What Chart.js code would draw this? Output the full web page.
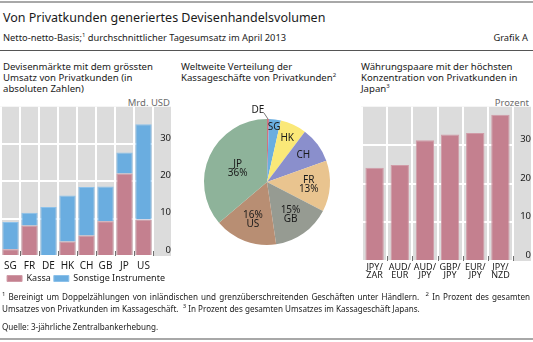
<!DOCTYPE html>
<html lang="de">
<head>
<meta charset="utf-8">
<script src="https://cdn.jsdelivr.net/npm/chart.js@4.4.0/dist/chart.umd.min.js"></script>
<style>
  body { margin: 0; width: 533px; height: 342px; position: relative; overflow: hidden;
         background: #fff; color: #1a1a1a; font-family: "Noto Sans", sans-serif; }
  .abs { position: absolute; white-space: nowrap; }
  .rule { position: absolute; left: 0; width: 533px; }
  .panel-title { position: absolute; font-size: 9.6px; line-height: 11px; white-space: nowrap; }
  sup { font-size: 6px; vertical-align: 4px; line-height: 0; }
  .unit { position: absolute; font-size: 9.5px; color: #6b6b6b; }
  .notes { position: absolute; left: 2px; width: 528px; font-size: 8.1px; line-height: 12px; text-align: justify; }
  canvas { position: absolute; }
</style>
</head>
<body>
<div class="rule" style="top:1px;height:2px;background:#a8a8a8"></div>
<div class="abs" style="left:3px;top:9px;font-size:12.5px">Von Privatkunden generiertes Devisenhandelsvolumen</div>
<div class="abs" style="left:3px;top:31px;font-size:9.3px">Netto-netto-Basis;<sup>1</sup> durchschnittlicher Tagesumsatz im April 2013</div>
<div class="abs" style="right:5px;top:31px;font-size:9.3px">Grafik A</div>
<div class="rule" style="top:50px;height:1px;background:#555"></div>

<div class="panel-title" style="left:3px;top:61px">Devisenmärkte mit dem grössten<br>Umsatz von Privatkunden (in<br>absoluten Zahlen)</div>
<div class="panel-title" style="left:181px;top:61px">Weltweite Verteilung der<br>Kassageschäfte von Privatkunden<sup>2</sup></div>
<div class="panel-title" style="left:361px;top:61px">Währungspaare mit der höchsten<br>Konzentration von Privatkunden in<br>Japan<sup>3</sup></div>
<div class="unit" style="right:363px;top:96px">Mrd. USD</div>
<div class="unit" style="right:4px;top:96px">Prozent</div>

<canvas id="marketChart" width="171" height="192" style="left:0;top:101px"></canvas>
<canvas id="spotChart" width="160" height="160" style="left:187px;top:102px"></canvas>
<canvas id="pairChart" width="170" height="182" style="left:361px;top:101px"></canvas>

<div class="notes" style="top:291px"><sup>1</sup> Bereinigt um Doppelzählungen von inländischen und grenzüberschreitenden Geschäften unter Händlern.&nbsp; <sup>2</sup> In Prozent des gesamten Umsatzes von Privatkunden im Kassageschäft.&nbsp; <sup>3</sup> In Prozent des gesamten Umsatzes im Kassageschäft Japans.</div>
<div class="notes" style="top:321px">Quelle: 3-jährliche Zentralbankerhebung.</div>
<div class="rule" style="top:338px;height:2px;background:#a8a8a8"></div>

<script>
// FX turnover with retail customers, April 2013 (USD bn, daily average)
const marketCodes = ['SG', 'FR', 'DE', 'HK', 'CH', 'GB', 'JP', 'US'];
const kassaVolume = [1.8, 8.2, 0.3, 3.9, 5.5, 9.3, 22.1, 9.8];
const otherVolume = [7.3, 3.4, 12.8, 12.3, 13.0, 9.3, 5.6, 25.5];

// global split of retail spot trades, percent
const spotCodes = ['DE', 'SG', 'HK', 'CH', 'FR', 'GB', 'US', 'JP'];
const spotShare = [0.5, 3, 6.7, 9.2, 13, 15, 16, 36];

// currency pairs with the highest retail share in Japan, percent
const pairLabels = [['JPY/', 'ZAR'], ['AUD/', 'EUR'], ['AUD/', 'JPY'], ['GBP/', 'JPY'], ['EUR/', 'JPY'], ['JPY/', 'NZD']];
const pairShare = [24.2, 24.9, 31.3, 32.8, 33.2, 37.9];

const axisMax = 40;
const axisStep = 10;

const FONT = '"Noto Sans", sans-serif';
const INK = '#1a1a1a';
const ROSE = '#c4808f';
const SKY = '#6aade0';

// gray panel behind plot area and the right-hand value axis
const plotBackdrop = {
  id: 'plotBackdrop',
  beforeDraw(chart) {
    const { ctx, chartArea: a, scales: { y } } = chart;
    ctx.save();
    ctx.fillStyle = '#dcdcdc';
    ctx.fillRect(a.left - 1, a.top, y.right - a.left + 1, a.bottom - a.top);
    ctx.restore();
  }
};

// short dark marks at the foot of each category boundary
const boundaryTicks = {
  id: 'boundaryTicks',
  afterDatasetsDraw(chart) {
    const { ctx, chartArea: a, scales: { x } } = chart;
    const n = x.ticks.length;
    const step = (a.right - a.left) / n;
    ctx.save();
    ctx.strokeStyle = '#707070';
    ctx.lineWidth = 1;
    ctx.beginPath();
    for (let i = 1; i <= n; i++) {
      const px = Math.round(a.left + step * i) + 0.5;
      ctx.moveTo(px, a.bottom);
      ctx.lineTo(px, a.bottom - 5);
    }
    ctx.stroke();
    ctx.restore();
  }
};

function valueAxis() {
  return {
    position: 'right',
    min: 0,
    max: axisMax,
    border: { display: false },
    grid: {
      color: c => (c.tick.value >= axisMax ? 'rgba(0,0,0,0)' : '#ffffff'),
      lineWidth: 2,
      drawTicks: false
    },
    ticks: {
      stepSize: axisStep,
      callback: v => (v < axisMax ? v : ''),
      labelOffset: -6,
      crossAlign: 'far',
      padding: 0,
      color: INK,
      font: { family: FONT, size: 9.5 }
    },
    afterFit(scale) { scale.width = 18; }
  };
}

function categoryAxis(size, lineHeight, height, pad) {
  return {
    border: { display: false },
    grid: { offset: true, color: '#ffffff', lineWidth: 2, drawTicks: false },
    ticks: {
      autoSkip: false, maxRotation: 0, minRotation: 0,
      color: INK, padding: pad,
      font: { family: FONT, size: size, lineHeight: lineHeight }
    },
    afterFit(scale) { scale.height = height; }
  };
}

// left: stacked bars, spot vs other instruments
const marketScales = { x: categoryAxis(10, 1.2, 15, 4), y: valueAxis() };
marketScales.x.stacked = true;
marketScales.y.stacked = true;

new Chart(document.getElementById('marketChart'), {
  type: 'bar',
  data: {
    labels: marketCodes,
    datasets: [
      { label: 'Kassa', data: kassaVolume, backgroundColor: ROSE, borderColor: '#d09ba7', borderWidth: 1 },
      { label: 'Sonstige Instrumente', data: otherVolume, backgroundColor: SKY, borderColor: '#8cc1ea', borderWidth: 1 }
    ]
  },
  options: {
    responsive: false,
    animation: false,
    categoryPercentage: 1,
    barPercentage: 0.86,
    layout: { padding: { left: 1 } },
    plugins: {
      legend: {
        position: 'bottom',
        labels: { boxWidth: 15, boxHeight: 6, padding: 3, color: INK, font: { family: FONT, size: 9 } }
      },
      tooltip: { enabled: false }
    },
    scales: marketScales
  },
  plugins: [plotBackdrop, boundaryTicks]
});

// middle: pie with labels inside the slices
const sliceLabels = {
  id: 'sliceLabels',
  afterDatasetsDraw(chart) {
    const ctx = chart.ctx;
    const total = spotShare.reduce((s, v) => s + v, 0);
    ctx.save();
    ctx.fillStyle = INK;
    ctx.strokeStyle = '#555';
    ctx.lineWidth = 0.8;
    ctx.font = '10px ' + FONT;
    ctx.textAlign = 'center';
    ctx.textBaseline = 'middle';
    chart.getDatasetMeta(0).data.forEach((arc, i) => {
      const p = arc.getProps(['x', 'y', 'startAngle', 'endAngle', 'outerRadius'], true);
      const mid = (p.startAngle + p.endAngle) / 2;
      const pct = spotShare[i] / total * 100;
      const code = spotCodes[i];
      if (pct < 1) {
        // sliver: label outside with a short leader
        const ex = p.x + Math.cos(mid) * p.outerRadius;
        const ey = p.y + Math.sin(mid) * p.outerRadius;
        ctx.beginPath();
        ctx.moveTo(p.x - 3, ey - 6);
        ctx.lineTo(ex, ey);
        ctx.stroke();
        ctx.fillText(code, p.x - 9, ey - 9);
        return;
      }
      const k = Math.min(0.9, 1.05 - 0.15 * Math.log(pct));
      const lx = p.x + Math.cos(mid) * p.outerRadius * k;
      const ly = p.y + Math.sin(mid) * p.outerRadius * k;
      if (pct < 10) {
        ctx.fillText(code, lx, ly);
      } else {
        const pctText = Math.round(spotShare[i]) + '%';
        const lines = (code === 'GB' || code === 'US') ? [pctText, code] : [code, pctText];
        ctx.fillText(lines[0], lx, ly - 4.5);
        ctx.fillText(lines[1], lx, ly + 4.5);
      }
    });
    ctx.restore();
  }
};

new Chart(document.getElementById('spotChart'), {
  type: 'pie',
  data: {
    labels: spotCodes,
    datasets: [{
      data: spotShare,
      backgroundColor: ['#d2727f', '#6aaee0', '#fae878', '#8a8fcc', '#e9c48f', '#969b92', '#b88e73', '#8eb39a'],
      borderWidth: 0
    }]
  },
  options: {
    responsive: false,
    animation: false,
    layout: { padding: 17 },
    plugins: { legend: { display: false }, tooltip: { enabled: false } }
  },
  plugins: [sliceLabels]
});

// right: single series of pair shares
new Chart(document.getElementById('pairChart'), {
  type: 'bar',
  data: {
    labels: pairLabels,
    datasets: [{ data: pairShare, backgroundColor: ROSE, borderColor: '#d09ba7', borderWidth: 1 }]
  },
  options: {
    responsive: false,
    animation: false,
    categoryPercentage: 1,
    barPercentage: 0.73,
    layout: { padding: { left: 1 } },
    plugins: { legend: { display: false }, tooltip: { enabled: false } },
    scales: { x: categoryAxis(9, 0.92, 22, 2), y: valueAxis() }
  },
  plugins: [plotBackdrop, boundaryTicks]
});
</script>
</body>
</html>
